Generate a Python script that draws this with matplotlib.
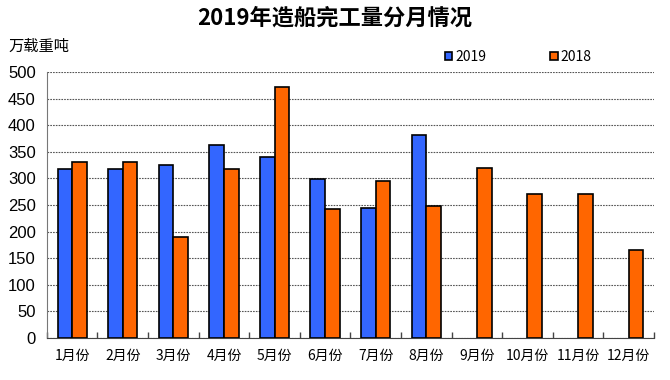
import matplotlib.pyplot as plt
import numpy as np

plt.rcParams['font.family'] = ['Noto Sans CJK SC', 'DejaVu Sans']

months = ['1月份', '2月份', '3月份', '4月份', '5月份', '6月份',
          '7月份', '8月份', '9月份', '10月份', '11月份', '12月份']
v2019 = [317, 317, 325, 362, 341, 299, 245, 382, np.nan, np.nan, np.nan, np.nan]
v2018 = [331, 331, 190, 317, 472, 243, 295, 248, 320, 271, 270, 165]
yticks = list(range(0, 501, 50))

fig = plt.figure(figsize=(6.7, 3.8), dpi=100)
ax = fig.add_axes([0.070, 0.1105, 0.906, 0.700])

x = np.arange(len(months))
w = 0.29
ax.bar(x - w / 2, v2019, w, color='#3366FF', edgecolor='black', linewidth=1.2, label='2019', zorder=3)
ax.bar(x + w / 2, v2018, w, color='#FF6600', edgecolor='black', linewidth=1.2, label='2018', zorder=3)

ax.set_xlim(-0.5, len(months) - 0.5)
ax.set_ylim(0, 500)
ax.set_yticks(yticks)
ax.set_yticklabels([str(t) for t in yticks], family='Liberation Sans', fontsize=12)
ax.tick_params(axis='y', length=0, pad=8)

# category labels at centers, tick marks between categories
ax.set_xticks(x)
ax.set_xticklabels(months, fontsize=10)
ax.tick_params(axis='x', length=0, pad=8)
ax.set_xticks(np.arange(-0.5, len(months)), minor=True)
ax.tick_params(axis='x', which='minor', length=4, direction='in', width=1, color='#444444')

ax.grid(axis='y', linestyle=(0, (1.5, 1)), color='#555555', linewidth=0.8, zorder=0)
for s in ['top', 'right']:
    ax.spines[s].set_visible(False)
ax.spines['left'].set_color('#777777')
ax.spines['bottom'].set_color('#444444')

fig.text(0.5, 0.952, '2019年造船完工量分月情况', ha='center', va='center',
         fontsize=16, fontweight='bold')
fig.text(0.012, 0.877, '万载重吨', ha='left', va='center', fontsize=11)

leg = ax.legend(loc='upper left', bbox_to_anchor=(0.635, 1.13), ncol=2, frameon=False,
                handlelength=0.55, handleheight=0.55, columnspacing=4.6, handletextpad=0.2,
                fontsize=10)

fig.savefig('out.png', dpi=100)
